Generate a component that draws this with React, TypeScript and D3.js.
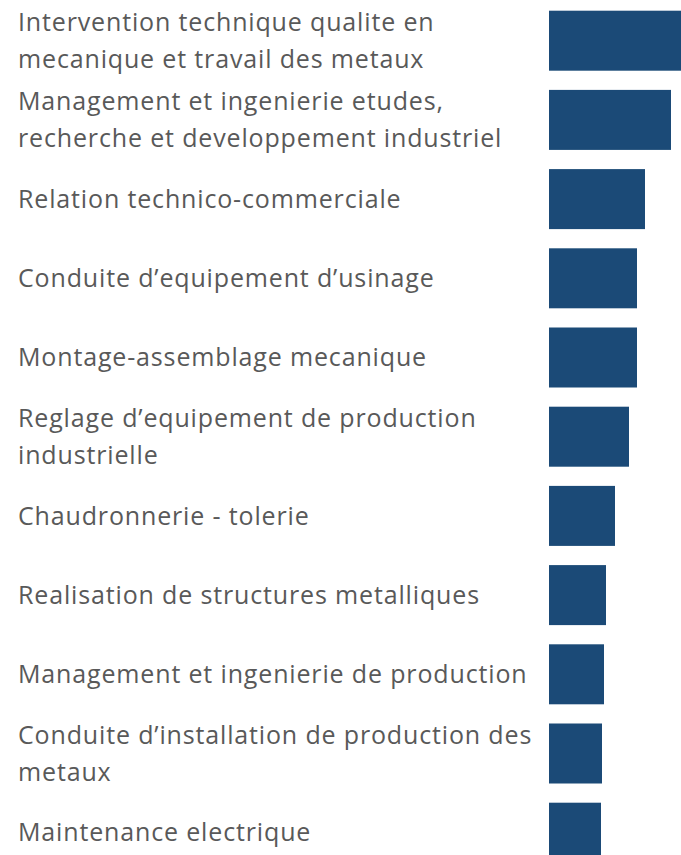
import React from "react";
import * as d3 from "d3";

// categories (line breaks as in the reference) and bar values
const categories = [
  "Intervention technique qualite en\nmecanique et travail des metaux",
  "Management et ingenierie etudes,\nrecherche et developpement industriel",
  "Relation technico-commerciale",
  "Conduite d\u2019equipement d\u2019usinage",
  "Montage-assemblage mecanique",
  "Reglage d\u2019equipement de production\nindustrielle",
  "Chaudronnerie - tolerie",
  "Realisation de structures metalliques",
  "Management et ingenierie de production",
  "Conduite d\u2019installation de production des\nmetaux",
  "Maintenance electrique",
];
const values = [140, 122, 96, 88, 88, 80, 66, 57, 55, 53, 52];

const W = 681;
const H = 855;

export default function App() {
  const step = 79.2;
  const y = d3
    .scaleBand<string>()
    .domain(categories)
    .range([1.1, 1.1 + step * categories.length])
    .paddingInner(0.2424)
    .paddingOuter(0.1212);

  const x = d3.scaleLinear().domain([0, 140]).range([549, 689]);

  const lineGap = 37;

  return (
    <svg
      width={W}
      height={H}
      style={{ position: "absolute", left: 0, top: 0, background: "#fff" }}
      fontFamily="'Open Sans', sans-serif"
    >
      {categories.map((c, i) => {
        const top = y(c) ?? 0;
        const mid = top + y.bandwidth() / 2;
        const lines = c.split("\n");
        const first = mid - ((lines.length - 1) * lineGap) / 2;
        return (
          <g key={c}>
            <rect
              x={x(0)}
              y={top}
              width={x(values[i]) - x(0)}
              height={y.bandwidth()}
              fill="#1b4a77"
            />
            <text fill="#595959" fontSize={25} letterSpacing={0.85} x={18}>
              {lines.map((l, j) => (
                <tspan key={j} x={18} y={first + j * lineGap} dy="0.35em">
                  {l}
                </tspan>
              ))}
            </text>
          </g>
        );
      })}
    </svg>
  );
}
